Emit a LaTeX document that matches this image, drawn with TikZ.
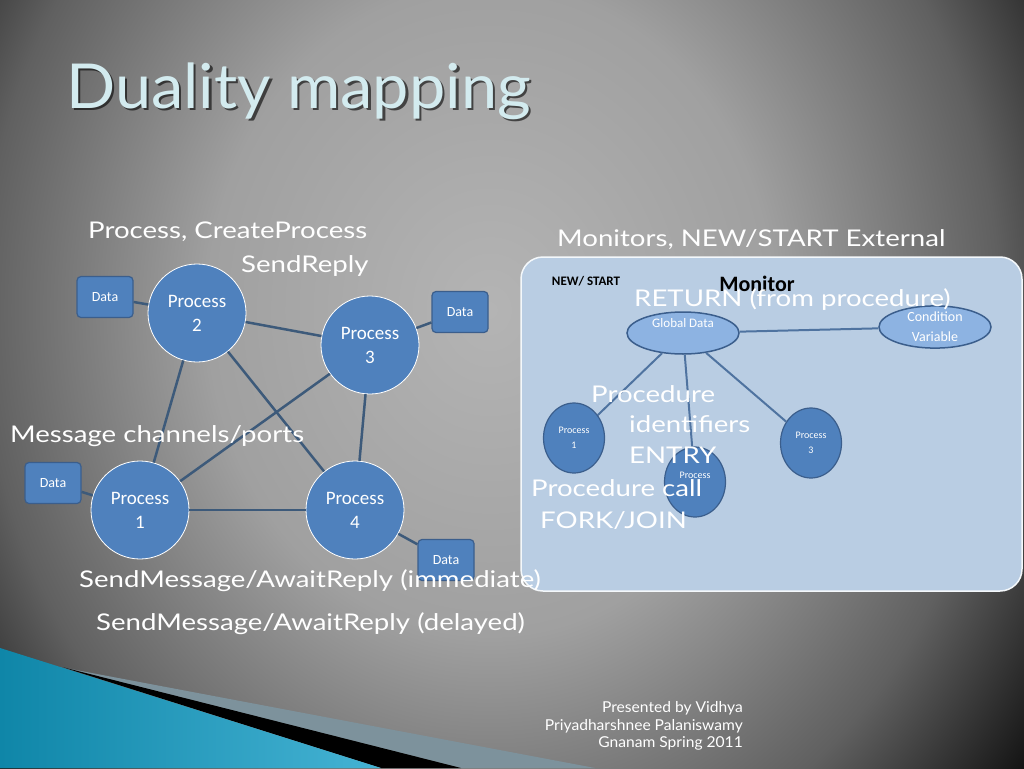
\documentclass[tikz,border=0pt]{standalone}
\usepackage{fontspec}
\setmainfont{Lato}
\newfontfamily\calfont{Carlito}
\newfontfamily\bodyfont{Lato}[FakeStretch=1.2]
\newfontfamily\titlefont{Lato}[FakeStretch=1.045]
\newfontfamily\footfont{Lato}[FakeStretch=1.04]
\usetikzlibrary{shapes.geometric}
\definecolor{bgA}{HTML}{B4B4B4}
\definecolor{bgB}{HTML}{A0A0A0}
\definecolor{bgC}{HTML}{606060}
\definecolor{pblue}{HTML}{4F81BD}
\definecolor{pborder}{HTML}{3B5E8C}
\definecolor{lineblue}{HTML}{3D5A7A}
\definecolor{monline}{HTML}{4F73A0}
\definecolor{panelc}{HTML}{B9CDE3}
\definecolor{ellc}{HTML}{8DB3E2}
\definecolor{titlec}{HTML}{D3EBEF}
\definecolor{tealA}{HTML}{0F86A8}
\definecolor{tealB}{HTML}{45B3D4}
\definecolor{bandc}{HTML}{7D929C}
\pgfdeclareradialshading{bgshade}{\pgfpoint{0bp}{0bp}}{color(0bp)=(bgA); color(10bp)=(bgB); color(18bp)=(bgC); color(25bp)=(black); color(50bp)=(black)}
\begin{document}
\begin{tikzpicture}[x=1pt,y=-1pt,
  proc/.style={circle, fill=pblue, draw=white, line width=0.8pt, minimum size=98pt, inner sep=0pt,
    text=white, align=center, font=\calfont\fontsize{19}{24}\selectfont},
  databox/.style={rectangle, rounded corners=4pt, fill=pblue, draw=pborder, line width=1.2pt,
    minimum width=56pt, minimum height=41pt, inner sep=0pt, text=white, font=\calfont\fontsize{14}{16}\selectfont},
  conn/.style={draw=lineblue, line width=2.5pt},
  mconn/.style={draw=monline, line width=2pt},
  ell/.style={ellipse, fill=ellc, draw=pborder, line width=1.5pt, inner sep=0pt, text=white,
    align=center, font=\calfont\fontsize{14}{20}\selectfont},
  sproc/.style={ellipse, fill=pblue, draw=pborder, line width=1.2pt, minimum width=61pt, minimum height=70pt,
    inner sep=0pt, text=white, align=center, font=\calfont\fontsize{10}{15}\selectfont},
  lab/.style={text=white, font=\bodyfont\fontsize{23}{28}\selectfont, inner sep=0pt, anchor=west},
  blk/.style={text=black, inner sep=0pt},
  foot/.style={text=white, font=\footfont\fontsize{15}{17.5}\selectfont, align=right, inner sep=0pt, anchor=east}
]
\useasboundingbox (0,0) rectangle (1024,768);
% background
\fill[black] (0,0) rectangle (1024,768);
\begin{scope}
  \clip (0,0) rectangle (1024,768);
  \shade[shading=bgshade] (490,310) ellipse (707 and 813);
  % bottom-left decoration
  \fill[bandc] (60,667) -- (595,768) -- (461,768) -- cycle;
  \fill[black] (62,667) -- (461,768) -- (381,768) -- cycle;
  \shade[left color=tealA, right color=tealB] (0,648) -- (381,768) -- (0,768) -- cycle;
\end{scope}
% title
\node[text=black, opacity=0.6, font=\titlefont\fontsize{62}{62}\selectfont, anchor=west, inner sep=0] (titlesh) at (68.5,93.5) {Duality mapping};
\node[text=titlec, font=\titlefont\fontsize{62}{62}\selectfont, anchor=west, inner sep=0] (title) at (66,91) {Duality mapping};

% left graph
\node[proc] (p2) at (197,313) {Process\\2};
\node[proc] (p3) at (370,345) {Process\\3};
\node[proc] (p1) at (140,510) {Process\\1};
\node[proc] (p4) at (355,510) {Process\\4};
\node[databox] (d2) at (105,297) {Data};
\node[databox] (d3) at (460,312) {Data};
\node[databox] (d1) at (53,483) {Data};
\node[databox] (d4) at (446,560) {Data};
\draw[conn] (d2) -- (p2);
\draw[conn] (d3) -- (p3);
\draw[conn] (d1) -- (p1);
\draw[conn] (d4) -- (p4);
\draw[conn] (p2) -- (p3);
\draw[conn] (p2) -- (p1);
\draw[conn] (p2) -- (p4);
\draw[conn] (p3) -- (p1);
\draw[conn] (p3) -- (p4);
\draw[conn] (p1) -- (p4);

% monitor panel
\node[draw=white!85!panelc, fill=panelc, line width=1.5pt, rounded corners=22pt,
  minimum width=501pt, minimum height=334pt, inner sep=0] (mon) at (771.5,424) {};
\node[blk, font=\calfont\bfseries\fontsize{13}{15}\selectfont] (newstart) at (586,281) {NEW/ START};
\node[blk, font=\calfont\bfseries\fontsize{22}{24}\selectfont] (montitle) at (757,284) {Monitor};
\node[ell, minimum width=112pt, minimum height=42pt] (gd) at (683,333) {};
\node[text=white, font=\calfont\fontsize{13}{15}\selectfont, inner sep=0] (gdt) at (683,323) {Global Data};
\node[ell, minimum width=112pt, minimum height=42pt] (cv) at (935,327) {Condition\\Variable};
\node[sproc] (s1) at (574,438) {Process\\1};
\node[sproc] (s2) at (695,482) {};
\node[text=white, font=\calfont\fontsize{10}{15}\selectfont, inner sep=0] (s2t) at (695,475) {Process};
\node[sproc] (s3) at (811,443) {Process\\3};
\draw[mconn] (gd) -- (cv);
\draw[mconn] (gd) -- (s1);
\draw[mconn] (gd) -- (s2);
\draw[mconn] (gd) -- (s3);

% labels
\node[lab] (l1) at (88,232) {Process, CreateProcess};
\node[lab] (l2) at (241,266) {SendReply};
\node[lab] (l3) at (10,436) {Message channels/ports};
\node[lab] (l4) at (79,581) {SendMessage/AwaitReply (immediate)};
\node[lab] (l5) at (96,624) {SendMessage/AwaitReply (delayed)};
\node[lab] (l6) at (557,240) {Monitors, NEW/START External};
\node[lab] (l7) at (634,300) {RETURN (from procedure)};
\node[lab] (l8) at (591,394) {Procedure};
\node[lab] (l9) at (629,424) {identifiers};
\node[lab] (l10) at (629,455) {ENTRY};
\node[lab] (l11) at (531,488) {Procedure call};
\node[lab] (l12) at (540,521) {FORK/JOIN};

% footer
\node[foot] (ft) at (743,726) {Presented by Vidhya\\Priyadharshnee Palaniswamy\\Gnanam Spring 2011};
\end{tikzpicture}
\end{document}
